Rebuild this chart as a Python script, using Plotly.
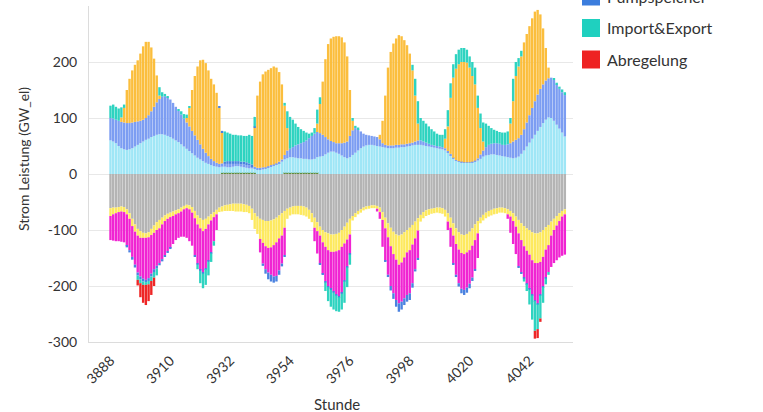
import plotly.graph_objects as go

# Hour index of the week shown (one bar per hour)
stunden = list(range(3888, 4056))

# Generation side (GW_el, positive)
gaskraftwerke = [0] * 41 + [2] * 13 + [0] * 10 + [2] * 13 + [0] * 91

wind_offshore = [
    60, 58, 55, 50, 46, 44, 43, 44, 46, 49, 52, 55,
    58, 61, 63, 66, 68, 70, 71, 71, 70, 68, 66, 63,
    60, 57, 53, 49, 45, 41, 37, 33, 29, 26, 23, 20,
    18, 16, 14, 13, 12, 11, 11, 10, 10, 11, 12, 12,
    11, 10, 9, 8, 8, 7, 7, 7, 8, 9, 11, 13,
    15, 17, 19, 22, 24, 26, 28, 28, 27, 26, 26, 25,
    25, 24, 24, 25, 28, 31, 32, 35, 38, 40, 40, 38,
    36, 33, 30, 28, 30, 34, 38, 42, 46, 49, 51, 52,
    52, 51, 50, 49, 48, 47, 46, 46, 46, 47, 47, 48,
    48, 49, 50, 51, 52, 52, 52, 51, 50, 49, 48, 47,
    46, 45, 44, 42, 38, 33, 28, 24, 22, 21, 20, 20,
    20, 21, 22, 24, 27, 31, 33, 34, 35, 35, 34, 33,
    32, 31, 30, 29, 28, 29, 31, 36, 42, 49, 56, 63,
    70, 77, 84, 91, 97, 101, 100, 95, 88, 81, 74, 67,
]

wind_onshore = [
    40, 41, 42, 45, 47, 48, 48, 47, 46, 44, 42, 40,
    39, 39, 42, 46, 52, 58, 63, 67, 69, 69, 67, 64,
    60, 56, 53, 50, 47, 44, 40, 36, 32, 27, 22, 18,
    14, 11, 9, 7, 6, 6, 5, 6, 6, 5, 4, 4,
    4, 5, 5, 5, 4, 4, 4, 4, 4, 3, 3, 3,
    2, 2, 3, 4, 8, 14, 15, 18, 22, 25, 27, 30,
    33, 38, 42, 45, 45, 42, 38, 31, 24, 19, 17, 17,
    19, 22, 26, 30, 38, 44, 44, 38, 30, 23, 19, 17,
    16, 16, 16, 13, 7, 5, 5, 5, 5, 5, 5, 5,
    5, 5, 5, 5, 6, 8, 8, 7, 6, 5, 4, 4,
    4, 4, 4, 4, 3, 3, 1, 1, 1, 1, 1, 1,
    1, 1, 2, 4, 8, 11, 15, 18, 19, 20, 21, 21,
    20, 21, 23, 26, 30, 32, 33, 34, 38, 43, 49, 55,
    60, 65, 68, 69, 70, 70, 72, 73, 72, 71, 72, 74,
]

photovoltaik = [
    0, 0, 0, 0, 8, 26, 59, 79, 93, 102, 109, 120,
    131, 136, 131, 114, 86, 48, 6, 0, 0, 0, 0, 0,
    0, 0, 0, 0, 8, 33, 73, 106, 131, 150, 159, 160,
    153, 143, 137, 125, 100, 55, 0, 0, 0, 0, 0, 0,
    0, 0, 0, 0, 0, 70, 129, 154, 166, 171, 172, 173,
    175, 171, 160, 134, 88, 40, 0, 0, 0, 0, 0, 0,
    0, 0, 0, 0, 15, 52, 95, 139, 170, 183, 188, 191,
    191, 189, 179, 152, 82, 17, 0, 0, 0, 0, 0, 0,
    0, 0, 0, 8, 40, 88, 139, 167, 182, 190, 196, 193,
    186, 176, 160, 129, 82, 30, 0, 0, 0, 0, 0, 0,
    0, 0, 0, 17, 44, 100, 143, 163, 173, 178, 179, 178,
    169, 153, 136, 90, 47, 16, 0, 0, 0, 0, 0, 0,
    0, 0, 0, 35, 72, 114, 128, 140, 155, 158, 159, 160,
    160, 151, 133, 100, 58, 19, 0, 0, 0, 0, 0, 0,
]

# Consumption side (GW_el, negative)
last = [
    -61, -60, -60, -59, -58, -59, -63, -70, -80, -90, -98, -102,
    -105, -106, -104, -98, -92, -86, -82, -78, -74, -71, -69, -67,
    -65, -63, -60, -57, -55, -56, -59, -66, -74, -79, -82, -80,
    -76, -72, -68, -64, -60, -58, -56, -55, -54, -53, -53, -53,
    -53, -54, -55, -57, -62, -70, -76, -80, -82, -84, -84, -83,
    -81, -78, -74, -70, -66, -62, -60, -58, -57, -57, -57, -58,
    -60, -64, -70, -78, -86, -94, -100, -104, -106, -108, -108, -107,
    -105, -100, -94, -87, -80, -75, -70, -66, -63, -60, -58, -57,
    -56, -56, -57, -60, -68, -78, -88, -96, -103, -108, -110, -108,
    -104, -100, -96, -91, -85, -79, -73, -68, -65, -63, -62, -61,
    -60, -60, -61, -64, -70, -78, -88, -97, -104, -108, -109, -107,
    -103, -97, -90, -84, -78, -73, -69, -66, -64, -62, -61, -60,
    -60, -61, -63, -66, -70, -76, -82, -88, -93, -97, -100, -104,
    -106, -106, -104, -100, -95, -91, -85, -80, -75, -70, -66, -63,
]

waermepumpen = [
    -14, -12, -10, -9, -9, -9, -9, -10, -13, -13, -12, -12,
    -9, -8, -9, -11, -13, -14, -15, -12, -10, -9, -8, -8,
    -7, -7, -7, -6, -6, -7, -10, -13, -16, -18, -20, -18,
    -14, -11, -9, -8, -8, -9, -10, -11, -12, -13, -14, -14,
    -14, -14, -13, -13, -20, -28, -31, -36, -41, -45, -48, -48,
    -46, -44, -41, -40, -30, -18, -14, -14, -15, -15, -16, -16,
    -16, -16, -16, -18, -16, -16, -22, -26, -30, -31, -31, -31,
    -31, -30, -30, -30, -28, -8, -7, -6, -6, -5, -5, -5,
    -5, -5, -5, -8, -14, -19, -25, -33, -40, -45, -52, -50,
    -45, -40, -40, -35, -30, -22, -12, -11, -10, -10, -9, -9,
    -9, -10, -10, -12, -15, -18, -22, -28, -31, -33, -34, -33,
    -33, -31, -28, -22, -10, -10, -10, -10, -10, -10, -10, -9,
    -9, -9, -9, -10, -14, -18, -24, -30, -36, -40, -44, -50,
    -53, -53, -53, -48, -40, -36, -25, -20, -17, -14, -10, -9,
]

elektrolyse = [
    -43, -47, -50, -52, -54, -54, -56, -56, -55, -59, -66, -69,
    -73, -75, -73, -69, -65, -64, -62, -62, -61, -58, -55, -50,
    -46, -44, -45, -49, -53, -57, -59, -66, -70, -74, -74, -70,
    -65, -57, -43, -28, 0, 0, 0, 0, 0, 0, 0, 0,
    0, 0, 0, 0, 0, 0, 0, -24, -37, -41, -44, -49,
    -56, -60, -57, -50, -49, 0, 0, 0, 0, 0, 0, 0,
    0, 0, 0, -24, -40, -50, -56, -62, -64, -66, -71, -77,
    -82, -82, -66, -48, -34, 0, 0, 0, 0, 0, 0, 0,
    0, 0, -5, -12, -48, -58, -67, -71, -70, -72, -69, -70,
    -73, -76, -77, -69, -55, -49, 0, 0, 0, 0, 0, 0,
    0, 0, 0, 0, -15, -34, -50, -55, -60, -64, -64, -63,
    -60, -57, -52, -44, 0, 0, 0, 0, 0, 0, 0, 0,
    0, 0, -8, -29, -41, -49, -59, -58, -56, -58, -61, -61,
    -66, -72, -58, -52, -50, -48, -56, -59, -62, -65, -70, -72,
]

# Signed series: positive = feed-in, negative = withdrawal
pumpspeicher = [
    0, 0, 0, 0, 0, 0, -3, -4, -5, -5, -5, -5,
    -5, -4, -5, -5, -5, -5, -4, -4, -3, -3, -2, 0,
    0, 0, 0, 0, 0, 0, 0, -2, -2, -2, -2, -2,
    -2, -2, 0, 0, 2, 3, 4, 5, 5, 5, 5, 5,
    5, 5, 5, 4, 3, 2, 0, 0, -4, -8, -12, -12,
    -11, -10, -8, -5, -3, 0, 0, 0, 0, 0, 0, 0,
    0, 0, 0, 0, 0, -2, -2, -2, -2, -2, -2, -2,
    -2, -2, -2, -2, -2, 0, 0, 0, 0, 0, 0, 0,
    0, 0, 0, 0, 0, -2, -4, -8, -10, -12, -15, -14,
    -12, -12, -12, -8, -4, -2, 0, 0, 0, 0, 0, 0,
    0, 0, 0, 0, 0, 0, -2, -4, -6, -8, -9, -9,
    -8, -6, -3, 0, 0, 0, 0, 0, 0, 0, 0, 0,
    0, 0, 0, 0, 0, 0, -2, -2, -2, -2, -2, -2,
    -2, -2, -2, -2, -2, 0, 0, 0, 0, 0, 0, 0,
]

import_export = [
    22, 25, 23, 22, 18, 6, 0, 0, 0, 0, -8, -7,
    -6, -5, -6, -8, -10, -12, 15, 8, 4, 2, 0, 0,
    0, 3, 6, 8, 6, 2, 0, 0, -8, -22, -26, -28,
    -24, -15, -8, 0, 0, 0, 54, 51, 49, 47, 47, 46,
    47, 46, 47, 51, 51, 17, 0, 0, 0, 0, 0, 0,
    0, 0, 0, 0, 5, 30, 57, 49, 39, 31, 25, 20,
    14, 8, 6, 10, 25, 12, 0, -15, -25, -30, -30, -28,
    -26, -28, -38, -35, -18, 5, 4, 3, 0, 0, 0, 0,
    0, 0, 0, 0, 0, 0, 0, 0, 0, 0, 0, 0,
    0, 0, 0, 10, 30, 40, 40, 37, 34, 31, 28, 25,
    22, 21, 22, 17, 29, 26, 24, 26, 26, 25, 25, 23,
    20, 25, 30, 22, 26, 34, 42, 34, 28, 24, 22, 21,
    22, 22, 23, 10, 40, 25, 15, 10, -5, -12, -26, -43,
    -53, -44, -41, -28, -10, -5, 0, 2, 3, 4, 5, 5,
]

abregelung = [0] * 168
for h, v in [(3898, -10), (3899, -25), (3900, -32), (3901, -36),
             (3902, -30), (3903, -25), (3904, -15),
             (4044, -14), (4045, -16), (4046, -6)]:
    abregelung[h - 3888] = v

reihen = [
    ("Gaskraftwerke", gaskraftwerke, "#5e8a3a"),
    ("Wind Offshore", wind_offshore, "#9fe6f6"),
    ("Wind Onshore", wind_onshore, "#7c9df2"),
    ("Photovoltaik", photovoltaik, "#fbbe3d"),
    ("Last", last, "#b4b4b4"),
    ("Wärmepumpen", waermepumpen, "#fde95e"),
    ("Elektrolyse", elektrolyse, "#f024d2"),
    ("Pumpspeicher", pumpspeicher, "#4a82e0"),
    ("Import&Export", import_export, "#2ed3c0"),
    ("Abregelung", abregelung, "#ee2626"),
]

legende = [
    ("Pumpspeicher", "#3b7ddd"),
    ("Import&Export", "#1fd0bf"),
    ("Abregelung", "#ee2222"),
]

FONT = "Lato, 'Open Sans', sans-serif"
W, H = 763, 412
L, R, T, B = 89, 573, 6, 342  # plot-area pixel box


def px_x(px):
    return (px - L) / (R - L)


def px_y(py):
    return (B - py) / (B - T)


fig = go.Figure()
for name, werte, farbe in reihen:
    fig.add_trace(go.Bar(
        x=stunden, y=werte, name=name,
        marker=dict(color=farbe, line=dict(width=0)),
        showlegend=False,
        hovertemplate="%{x}: %{y} GW<extra>" + name + "</extra>",
    ))

shapes = []
annotations = []
for k, (name, farbe) in enumerate(legende):
    cy = -3.5 + 31.5 * k
    shapes.append(dict(
        type="rect", xref="paper", yref="paper",
        x0=px_x(582), x1=px_x(600), y0=px_y(cy + 9), y1=px_y(cy - 9),
        fillcolor=farbe, line=dict(width=0), layer="above",
    ))
    annotations.append(dict(
        text=name, xref="paper", yref="paper",
        x=px_x(605), y=px_y(cy), xanchor="left", yanchor="middle",
        showarrow=False, font=dict(family=FONT, size=16, color="#333333"),
    ))

annotations.append(dict(
    text="Strom Leistung (GW_el)", xref="paper", yref="paper",
    x=px_x(23), y=px_y(159), xanchor="center", yanchor="middle",
    textangle=-90, showarrow=False,
    font=dict(family=FONT, size=14, color="#333333"),
))
annotations.append(dict(
    text="Stunde", xref="paper", yref="paper",
    x=px_x(337), y=px_y(404), xanchor="center", yanchor="middle",
    showarrow=False, font=dict(family=FONT, size=15, color="#333333"),
))

fig.update_layout(
    width=W, height=H,
    margin=dict(l=L, r=W - R, t=T, b=H - B, pad=0, autoexpand=False),
    paper_bgcolor="white", plot_bgcolor="white",
    barmode="relative", bargap=0.12,
    showlegend=False,
    font=dict(family=FONT, size=14, color="#333333"),
    shapes=shapes, annotations=annotations,
    xaxis=dict(
        range=[3880.1, 4058.0], tickmode="array",
        tickvals=[3888, 3910, 3932, 3954, 3976, 3998, 4020, 4042],
        tickangle=-45, showgrid=False, zeroline=False,
        showline=True, linecolor="#dcdcdc", linewidth=1,
        ticks="outside", ticklen=4, tickcolor="rgba(0,0,0,0)",
        tickfont=dict(family=FONT, size=14, color="#333333"),
        automargin=False,
    ),
    yaxis=dict(
        range=[-300, 300], tickmode="array",
        tickvals=[-300, -200, -100, 0, 100, 200],
        ticktext=["-300", "-200", "-100", "0", "100", "200"],
        showgrid=True, gridcolor="#e8e8e8", gridwidth=1,
        zeroline=False, showline=True, linecolor="#dcdcdc", linewidth=1,
        ticks="outside", ticklen=8, tickcolor="rgba(0,0,0,0)",
        tickfont=dict(family=FONT, size=14, color="#333333"),
        automargin=False,
    ),
)

fig.write_html("out.html")
